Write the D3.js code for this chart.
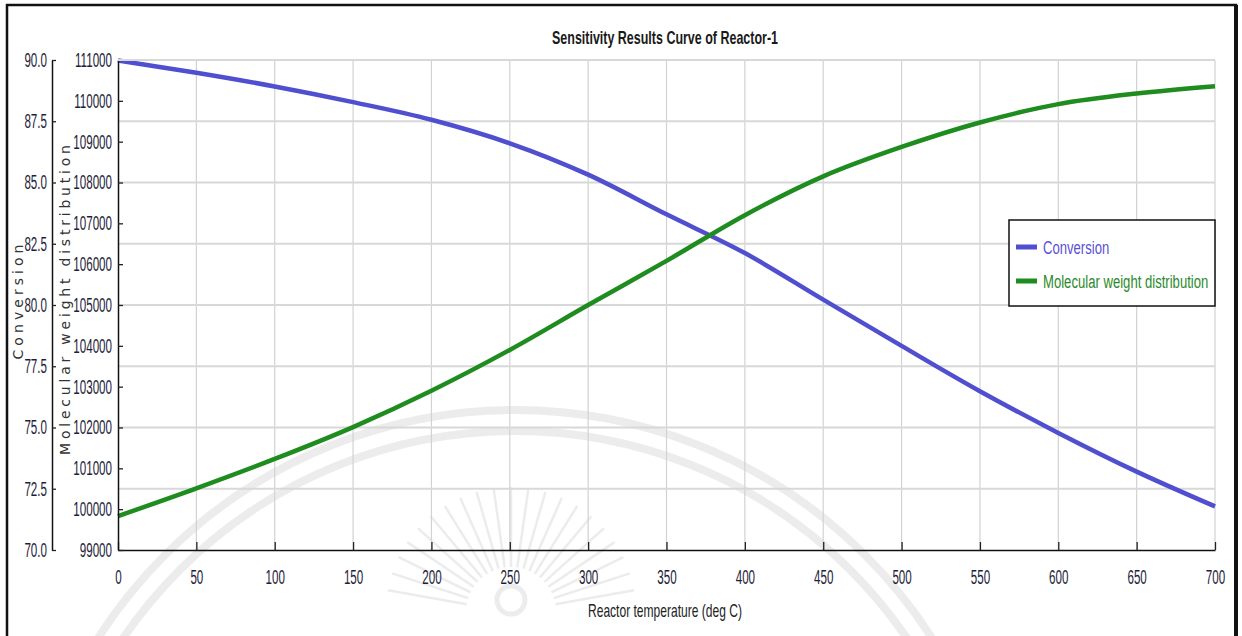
<!DOCTYPE html>
<html>
<meta charset="utf-8">
<style>
body { margin: 0; background: #fff; }
#chart { width: 1242px; height: 636px; }
text { font-family: "Liberation Sans", Arial, sans-serif; }
</style>
<script src="https://d3js.org/d3.v7.min.js"></script>
<body>
<div id="chart"></div>
<script>
// values
var temps = [0, 50, 100, 150, 200, 250, 300, 350, 400, 450, 500, 550, 600, 650, 700];
var conversion = [89.98, 89.48, 88.92, 88.28, 87.56, 86.6, 85.32, 83.7, 82.12, 80.22, 78.33, 76.48, 74.78, 73.2, 71.78];
var mwd = [99830, 100510, 101230, 102010, 102900, 103900, 105000, 106080, 107200, 108150, 108870, 109470, 109920, 110180, 110360];

var xTicks = d3.range(0, 701, 50);
var convTicks = d3.range(70, 90.01, 2.5);
var mwTicks = d3.range(99000, 111001, 1000);

var width = 1242, height = 636;
var plot = { left: 118, right: 1215, top: 60, bottom: 550 };

var svg = d3.select("#chart").append("svg")
    .attr("width", width)
    .attr("height", height);

// squeeze a text to look like the narrow font of the original
function narrow(sel, f) {
    sel.each(function() {
        var w = this.getComputedTextLength();
        d3.select(this).attr("textLength", w * f).attr("lengthAdjust", "spacingAndGlyphs");
    });
}
function fitTo(sel, w, adjust) {
    sel.attr("textLength", w).attr("lengthAdjust", adjust || "spacingAndGlyphs");
}

// faint watermark behind everything
var wm = svg.append("g").attr("fill", "none").attr("stroke", "#d6d6d6").attr("opacity", 0.45);
wm.append("circle").attr("cx", 515).attr("cy", 905).attr("r", 495).attr("stroke-width", 8);
wm.append("circle").attr("cx", 515).attr("cy", 905).attr("r", 474).attr("stroke-width", 8);
d3.range(-80, 81, 8).forEach(function(a) {
    var r = a * Math.PI / 180;
    wm.append("line")
        .attr("x1", 511 + 45 * Math.sin(r)).attr("y1", 612 - 45 * Math.cos(r))
        .attr("x2", 511 + 125 * Math.sin(r)).attr("y2", 612 - 125 * Math.cos(r))
        .attr("stroke-width", 2.5);
});
wm.append("circle").attr("cx", 511).attr("cy", 600).attr("r", 14).attr("stroke-width", 5);

var x = d3.scaleLinear().domain([0, 700]).range([plot.left, plot.right]);
var yConv = d3.scaleLinear().domain([70, 90]).range([plot.bottom, plot.top]);
var yMw = d3.scaleLinear().domain([99000, 111000]).range([plot.bottom, plot.top]);

// grid
var grid = svg.append("g");
grid.selectAll(".vg")
    .data(xTicks.slice(1))
    .enter().append("line")
    .attr("x1", d => x(d)).attr("x2", d => x(d))
    .attr("y1", plot.top).attr("y2", plot.bottom)
    .attr("stroke", "#d2d2d2").attr("stroke-width", 1.2);
grid.selectAll(".hg")
    .data(convTicks.slice(1))
    .enter().append("line")
    .attr("x1", plot.left).attr("x2", plot.right)
    .attr("y1", d => yConv(d)).attr("y2", d => yConv(d))
    .attr("stroke", "#d8d8d8").attr("stroke-width", 2);

// lines
var convLine = d3.line()
    .x((d, i) => x(temps[i]))
    .y(d => yConv(d))
    .curve(d3.curveMonotoneX);
var mwLine = d3.line()
    .x((d, i) => x(temps[i]))
    .y(d => yMw(d))
    .curve(d3.curveMonotoneX);

svg.append("path")
    .datum(conversion)
    .attr("d", convLine)
    .attr("fill", "none")
    .attr("stroke", "#4f4fcf")
    .attr("stroke-width", 4.5);
svg.append("path")
    .datum(mwd)
    .attr("d", mwLine)
    .attr("fill", "none")
    .attr("stroke", "#1f8c1f")
    .attr("stroke-width", 4.5);

// axes
var labelColor = "#1e1e3a";

var xAxis = svg.append("g")
    .attr("transform", "translate(0," + plot.bottom + ")")
    .call(d3.axisBottom(x).tickValues(xTicks).tickSizeInner(-8).tickSizeOuter(0).tickPadding(20));

var convAxis = svg.append("g")
    .attr("transform", "translate(52,0)")
    .call(d3.axisLeft(yConv).tickValues(convTicks).tickFormat(d3.format(".1f"))
        .tickSizeInner(-4).tickSizeOuter(0).tickPadding(5));

var mwAxis = svg.append("g")
    .attr("transform", "translate(" + plot.left + ",0)")
    .call(d3.axisLeft(yMw).tickValues(mwTicks).tickFormat(d3.format("d"))
        .tickSizeInner(-5).tickSizeOuter(0).tickPadding(6));

[xAxis, convAxis, mwAxis].forEach(function(a) {
    a.select(".domain").attr("stroke", "#111").attr("stroke-width", 1.5);
    a.selectAll(".tick line").attr("stroke", "#222").attr("stroke-width", 1.3);
    a.selectAll(".tick text")
        .attr("fill", labelColor)
        .style("font-size", "20px")
        .style("font-family", "'Liberation Sans', Arial, sans-serif")
        .call(narrow, 0.58);
});
// top border in light grey
svg.append("line")
    .attr("x1", plot.left).attr("x2", plot.right)
    .attr("y1", plot.top).attr("y2", plot.top)
    .attr("stroke", "#d8d8d8").attr("stroke-width", 2);

// titles
svg.append("text")
    .attr("x", 665).attr("y", 44)
    .attr("text-anchor", "middle")
    .style("font-size", "19px")
    .style("font-weight", "bold")
    .attr("fill", "#1a1a1a")
    .text("Sensitivity Results Curve of Reactor-1")
    .call(fitTo, 226);

svg.append("text")
    .attr("x", 665).attr("y", 617)
    .attr("text-anchor", "middle")
    .style("font-size", "19px")
    .attr("fill", "#222")
    .text("Reactor temperature (deg C)")
    .call(fitTo, 154);

svg.append("text")
    .attr("transform", "translate(23,302) rotate(-90)")
    .attr("text-anchor", "middle")
    .style("font-family", "'DejaVu Sans', sans-serif")
    .style("font-size", "14px")
    .attr("fill", "#333")
    .text("Conversion")
    .call(fitTo, 115, "spacing");

svg.append("text")
    .attr("transform", "translate(70,300) rotate(-90)")
    .attr("text-anchor", "middle")
    .style("font-family", "'DejaVu Sans', sans-serif")
    .style("font-size", "14px")
    .attr("fill", "#333")
    .text("Molecular weight distribution")
    .call(fitTo, 310, "spacing");

// legend
var legend = svg.append("g").attr("transform", "translate(1009,220)");
legend.append("rect")
    .attr("width", 206).attr("height", 86)
    .attr("fill", "#fff")
    .attr("stroke", "#111").attr("stroke-width", 1.5);
var series = [
    { name: "Conversion", color: "#4f4fcf", text: "#5a4fd8" },
    { name: "Molecular weight distribution", color: "#1f8c1f", text: "#2a8a2a" }
];
series.forEach(function(s, i) {
    var yy = 27 + i * 34;
    legend.append("line")
        .attr("x1", 7).attr("x2", 28)
        .attr("y1", yy).attr("y2", yy)
        .attr("stroke", s.color).attr("stroke-width", 5);
    legend.append("g")
        .attr("transform", "translate(34," + (yy + 7) + ") scale(0.69,1)")
        .append("text")
        .style("font-size", "19px")
        .attr("fill", s.text)
        .text(s.name);
});

// outer frame
svg.append("path")
    .attr("d", "M7,640 L7,5 L1236,5 L1236,640")
    .attr("fill", "none")
    .attr("stroke", "#111")
    .attr("stroke-width", 2.5);
svg.append("line")
    .attr("x1", 1236).attr("x2", 1236).attr("y1", 5).attr("y2", 640)
    .attr("stroke", "#111").attr("stroke-width", 4);
</script>
</body>
</html>
